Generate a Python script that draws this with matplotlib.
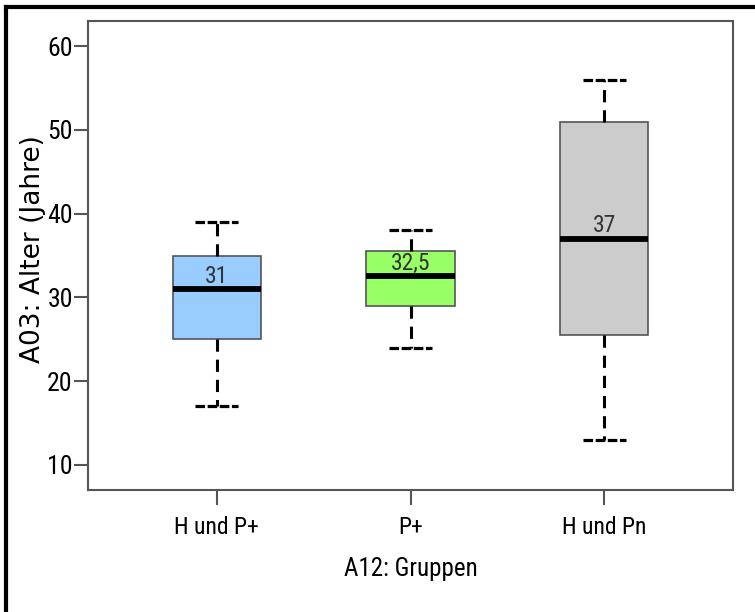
import matplotlib
matplotlib.use("Agg")
import matplotlib.pyplot as plt
from matplotlib.lines import Line2D
from matplotlib import font_manager as fm

categories = ["H und P+", "P+", "H und Pn"]
whislo = [17, 24, 13]
q1 = [25, 29, 25.5]
med = [31, 32.5, 37]
q3 = [35, 35.5, 51]
whishi = [39, 38, 56]
med_labels = ["31", "32,5", "37"]
colors = ["#99ccff", "#99ff66", "#cccccc"]
yticks = [10, 20, 30, 40, 50, 60]


def find_narrow():
    prefs = ["liberation sans narrow", "arial narrow", "roboto condensed",
             "noto sans condensed", "open sans condensed", "dejavu sans condensed"]
    cands = []
    for f in fm.fontManager.ttflist:
        n = f.name.lower()
        nar = ("narrow" in n or "condensed" in n or
               str(f.stretch) in ("condensed", "semi-condensed", "extra-condensed"))
        if not nar or f.style != "normal":
            continue
        w = f.weight if isinstance(f.weight, int) else (400 if f.weight == "normal" else 700)
        if w != 400:
            continue
        rank = len(prefs)
        for i, p in enumerate(prefs):
            if p in n:
                rank = i
                break
        cands.append((rank, f.fname))
    if cands:
        cands.sort()
        return fm.FontProperties(fname=cands[0][1])
    return fm.FontProperties(family=["Liberation Sans", "DejaVu Sans"])


base = find_narrow()


def fp(size):
    p = base.copy()
    p.set_size(size)
    return p


fig = plt.figure(figsize=(7.55, 6.12), dpi=100)
ax = fig.add_axes([88/755, 1-490/612, (733-88)/755, (490-21)/612])

stats = []
for i, c in enumerate(categories):
    stats.append(dict(label=c, whislo=whislo[i], q1=q1[i], med=med[i],
                      q3=q3[i], whishi=whishi[i], fliers=[]))
pos = [1, 2, 3]
bp = ax.bxp(stats, positions=pos, widths=0.455, patch_artist=True,
            showfliers=False, capwidths=0.222,
            boxprops=dict(edgecolor="#555555", linewidth=1.2),
            medianprops=dict(color="black", linewidth=4.2, solid_capstyle="butt"),
            whiskerprops=dict(color="black", linewidth=2.2, linestyle=(0, (4, 2.6))),
            capprops=dict(color="black", linewidth=2.3, linestyle=(0, (3, 0.8))))
for patch, col in zip(bp["boxes"], colors):
    patch.set_facecolor(col)

for p, m, lab in zip(pos, med, med_labels):
    ax.annotate(lab, (p, m), xytext=(0, 4.5), textcoords="offset points",
                ha="center", va="baseline", color="#333333",
                fontproperties=fp(17))

ax.set_xlim(0.335, 3.665)
ax.set_ylim(7, 63)
ax.set_yticks(yticks)
ax.set_yticklabels([str(v) for v in yticks], fontproperties=fp(18.5))
ax.set_xticks(pos)
ax.set_xticklabels(categories, fontproperties=fp(17))
ax.tick_params(axis="y", length=10, width=1.5, color="#555555", pad=1)
ax.tick_params(axis="x", length=10.8, width=1.5, color="#555555", pad=8)
for s in ax.spines.values():
    s.set_color("#555555")
    s.set_linewidth(1.5)

ax.set_xlabel("A12: Gruppen", fontproperties=fp(18), labelpad=13)
ax.set_ylabel("A03: Alter (Jahre)", family=["DejaVu Sans"], fontsize=19)
ax.yaxis.set_label_coords((46 - 88) / 645, 0.514)

# outer frame
fig.add_artist(Line2D([6/755, 6/755], [0, 1-7/612], color="black",
                      linewidth=3, transform=fig.transFigure))
fig.add_artist(Line2D([6/755, 1], [1-7/612, 1-7/612], color="black",
                      linewidth=3, transform=fig.transFigure))

fig.savefig("out.png", dpi=100)
